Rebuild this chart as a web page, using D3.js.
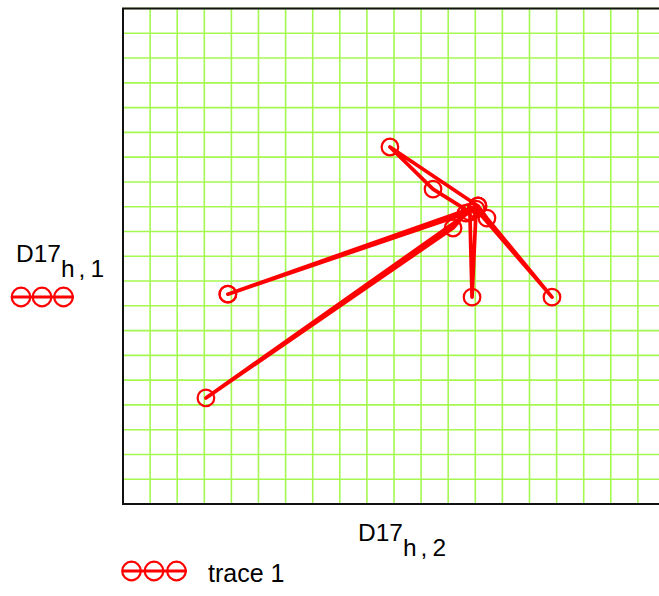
<!DOCTYPE html>
<html>
<head>
<meta charset="utf-8">
<script src="https://cdn.jsdelivr.net/npm/d3@7"></script>
<style>
  html, body { margin: 0; padding: 0; background: #fff; }
  svg { display: block; }
  text { font-family: Arial, "Liberation Sans", sans-serif; fill: #000; }
</style>
</head>
<body>
<svg id="chart" width="659" height="596"></svg>
<script>
// trace 1: D17[h,2] (x) against D17[h,1] (y), points joined in order
const xValues = [3.87, 13.10, 9.85, 11.44, 12.80, 12.88, 13.03, 15.83, 13.43, 13.10, 3.06, 12.18, 12.66, 3.87];
const yValues = [8.47, 12.03, 14.41, 12.71, 11.78, 8.35, 11.90, 8.35, 11.54, 12.03, 4.28, 11.14, 11.74, 8.47];

// grid divisions along each axis
const xGrid = d3.range(0, 21);
const yGrid = d3.range(0, 21);

const traceName = "trace 1";
const xLabel = { main: "D17", sub: ["h", ",", "2"] };
const yLabel = { main: "D17", sub: ["h", ",", "1"] };

const svg = d3.select("#chart");
const plot = { left: 123, top: 8.5, width: 542, height: 495.5 };

const x = d3.scaleLinear().domain([0, 20]).range([plot.left, plot.left + plot.width]);
const y = d3.scaleLinear().domain([0, 20]).range([plot.top + plot.height, plot.top]);

const red = "#ff0000";
const gridColor = "#a4f850";

// grid
const grid = svg.append("g");
grid.selectAll("line.v").data(xGrid).join("line")
  .attr("x1", d => x(d)).attr("x2", d => x(d))
  .attr("y1", y(0)).attr("y2", y(20))
  .attr("stroke", gridColor).attr("stroke-width", 1.6);
grid.selectAll("line.h").data(yGrid).join("line")
  .attr("y1", d => y(d)).attr("y2", d => y(d))
  .attr("x1", x(0)).attr("x2", x(20))
  .attr("stroke", gridColor).attr("stroke-width", 1.6);

// frame
svg.append("rect")
  .attr("x", x(0)).attr("y", y(20))
  .attr("width", x(20) - x(0)).attr("height", y(0) - y(20))
  .attr("fill", "none").attr("stroke", "#111").attr("stroke-width", 2);

// trace
const pts = xValues.map((v, i) => [v, yValues[i]]);
const line = d3.line().x(d => x(d[0])).y(d => y(d[1]));
svg.append("path")
  .datum(pts)
  .attr("d", line)
  .attr("fill", "none")
  .attr("stroke", red)
  .attr("stroke-width", 3.7)
  .attr("stroke-linejoin", "round")
  .attr("stroke-linecap", "round");

svg.append("g").selectAll("circle").data(pts).join("circle")
  .attr("cx", d => x(d[0])).attr("cy", d => y(d[1]))
  .attr("r", 8.3)
  .attr("fill", "none")
  .attr("stroke", red).attr("stroke-width", 2.2);

// axis labels with subscripts
function label(tx, ty, lab) {
  const t = svg.append("text").attr("x", tx).attr("y", ty).attr("font-size", 24.5);
  t.append("tspan").text(lab.main);
  t.append("tspan").attr("dy", 15).text(lab.sub[0]);
  t.append("tspan").attr("dx", 4).text(lab.sub[1]);
  t.append("tspan").attr("dx", 5).text(lab.sub[2]);
}
label(16, 262, yLabel);
label(358, 541, xLabel);

// legend swatch: line with three circles
function swatch(x0, x1, cy, centers, r) {
  const g = svg.append("g");
  g.append("line").attr("x1", x0).attr("x2", x1).attr("y1", cy).attr("y2", cy)
    .attr("stroke", red).attr("stroke-width", 3);
  g.selectAll("circle").data(centers).join("circle")
    .attr("cx", d => d).attr("cy", cy).attr("r", r)
    .attr("fill", "none").attr("stroke", red).attr("stroke-width", 2.2);
}
swatch(11, 74, 297, [21, 42, 63.5], 9.3);
swatch(122, 187, 571, [131.5, 154, 176.5], 9.3);

svg.append("text").attr("x", 208).attr("y", 582).attr("font-size", 25).text(traceName);
</script>
</body>
</html>
